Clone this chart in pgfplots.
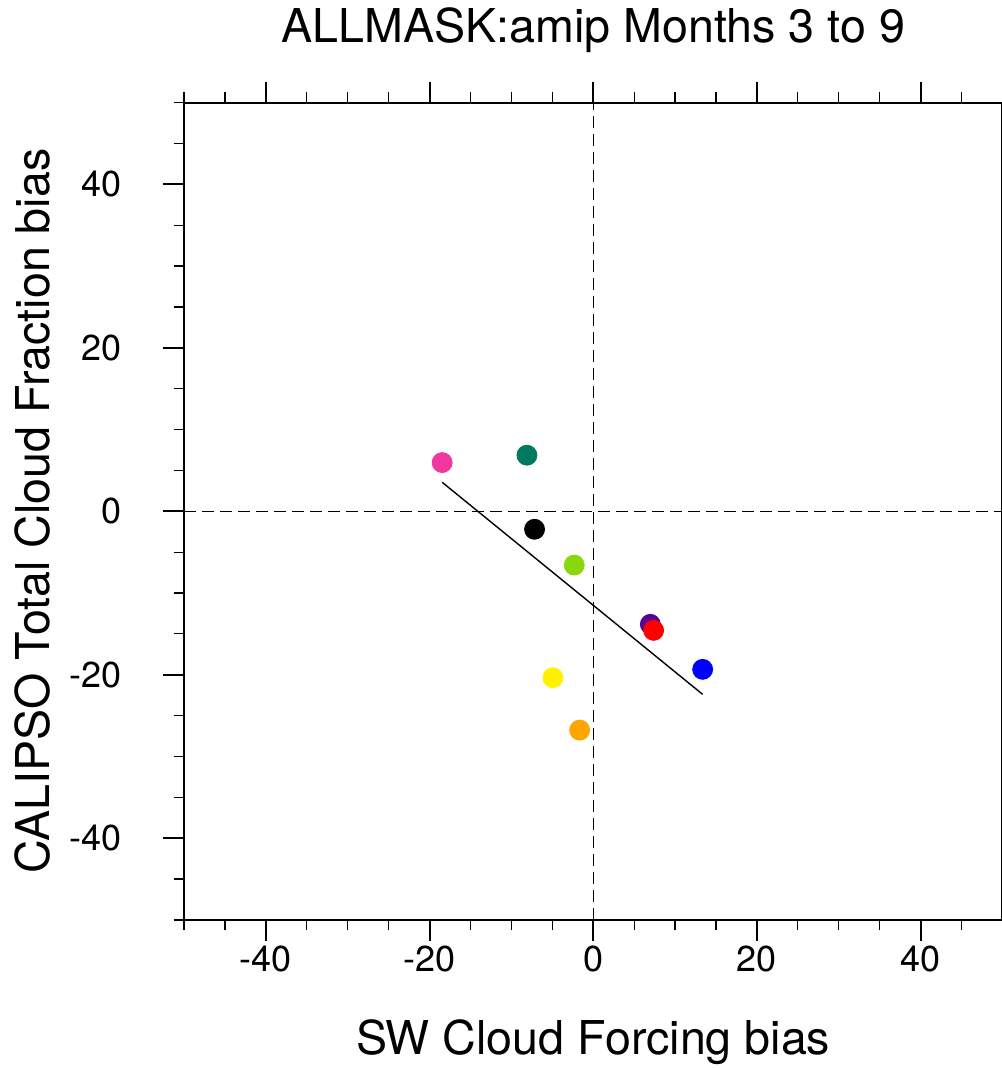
\documentclass[border=0pt]{standalone}
\usepackage{pgfplots}
\pgfplotsset{compat=1.18}
\usepackage{fontspec}
\setmainfont{TeX Gyre Heros}
\definecolor{cpink}{RGB}{243,55,160}
\definecolor{cteal}{RGB}{0,122,94}
\definecolor{cgreen}{RGB}{138,216,12}
\definecolor{cpurple}{RGB}{88,0,144}
\definecolor{corange}{RGB}{255,165,0}
\begin{document}
\begin{tikzpicture}
\useasboundingbox (-92bp,-74bp) rectangle (408.5bp,459.8bp);
\begin{axis}[
  scale only axis,
  width=409bp, height=408.5bp,
  xmin=-50, xmax=50, ymin=-50, ymax=50,
  axis line style={line width=1bp},
  xtick={-40,-20,0,20,40}, ytick={-40,-20,0,20,40},
  minor xtick={-50,-45,...,50}, minor ytick={-50,-45,...,50},
  tick align=outside,
  major tick length=10.5bp, minor tick length=5.2bp,
  every major tick/.style={line width=1bp, black},
  every minor tick/.style={line width=0.6bp, black},
  xtick pos=both, ytick pos=left,
  /pgf/number format/assume math mode=true,
  tick label style={font=\fontsize{18bp}{21bp}\selectfont},
  xticklabel style={anchor=base, yshift=-15.5bp},
  yticklabel style={anchor=east, xshift=-17bp},
  xlabel={SW Cloud Forcing bias},
  ylabel={CALIPSO Total Cloud Fraction bias},
  every axis x label/.style={at={(axis description cs:0.5,0)}, anchor=base, yshift=-67.5bp, font=\fontsize{23.3bp}{26bp}\selectfont},
  every axis y label/.style={at={(axis description cs:-0.1846,0.5)}, rotate=90, anchor=center, font=\fontsize{23.3bp}{26bp}\selectfont},
  title={ALLMASK:amip Months 3 to 9},
  every axis title/.style={at={(axis description cs:0.5,1)}, anchor=base, yshift=30bp, font=\fontsize{23.3bp}{26bp}\selectfont},
  clip=false,
]
\addplot[black, line width=0.65bp, dash pattern=on 6bp off 3bp] coordinates {(-50,0) (50,0)};
\addplot[black, line width=0.65bp, dash pattern=on 6bp off 3bp] coordinates {(0,-50) (0,50)};
\addplot[black, line width=0.7bp] coordinates {(-18.46,3.55) (13.37,-22.4)};
\addplot[only marks, mark=*, mark size=5bp, cpink, mark options={draw=cpink, fill=cpink}] coordinates {(-18.46,5.96)};
\addplot[only marks, mark=*, mark size=5bp, cteal, mark options={draw=cteal, fill=cteal}] coordinates {(-8.10,6.86)};
\addplot[only marks, mark=*, mark size=5bp, black, mark options={draw=black, fill=black}] coordinates {(-7.17,-2.20)};
\addplot[only marks, mark=*, mark size=5bp, cgreen, mark options={draw=cgreen, fill=cgreen}] coordinates {(-2.32,-6.58)};
\addplot[only marks, mark=*, mark size=5bp, cpurple, mark options={draw=cpurple, fill=cpurple}] coordinates {(6.98,-13.83)};
\addplot[only marks, mark=*, mark size=5bp, red, mark options={draw=red, fill=red}] coordinates {(7.38,-14.57)};
\addplot[only marks, mark=*, mark size=5bp, blue, mark options={draw=blue, fill=blue}] coordinates {(13.37,-19.34)};
\addplot[only marks, mark=*, mark size=5bp, yellow, mark options={draw=yellow, fill=yellow}] coordinates {(-4.93,-20.36)};
\addplot[only marks, mark=*, mark size=5bp, corange, mark options={draw=corange, fill=corange}] coordinates {(-1.66,-26.77)};
\end{axis}
\end{tikzpicture}
\end{document}
